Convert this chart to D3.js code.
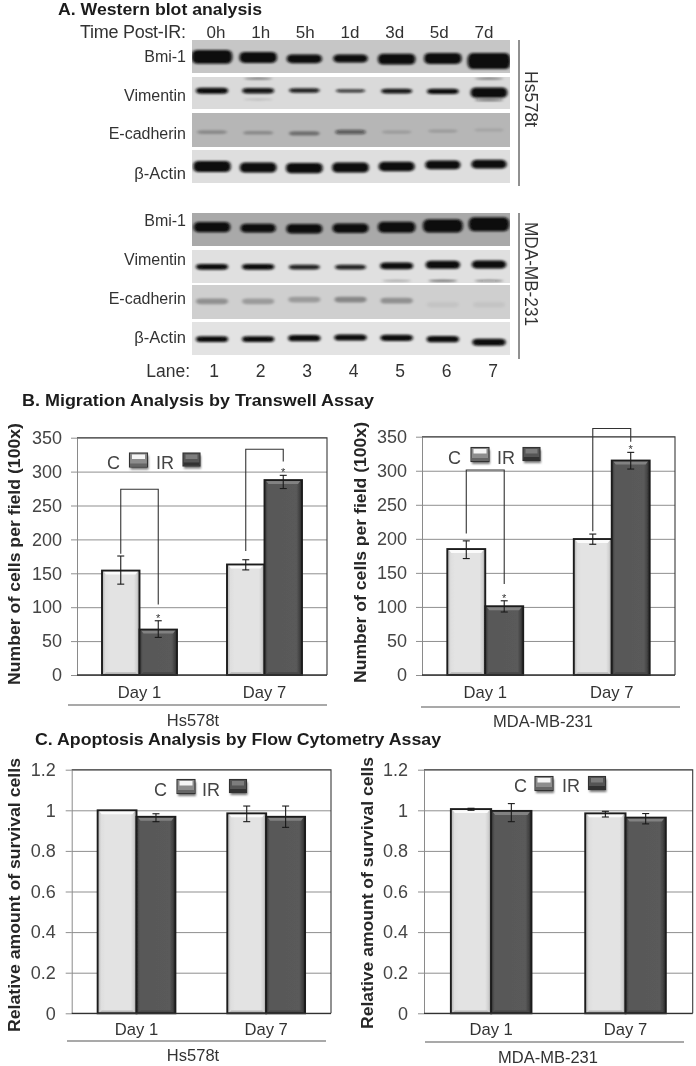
<!DOCTYPE html>
<html><head><meta charset="utf-8">
<script src="https://cdnjs.cloudflare.com/ajax/libs/d3/7.8.5/d3.min.js"></script>
<style>
html,body{margin:0;padding:0;background:#fff}
svg{display:block}
text{font-family:"Liberation Sans",Arial,sans-serif}
</style></head><body>
<svg id="c" width="696" height="1066"></svg>
<script>
// ---------- DATA ----------
const timeLabels=["0h","1h","5h","1d","3d","5d","7d"];
const laneLabels=["1","2","3","4","5","6","7"];
const days=["Day 1","Day 7"];
const seriesNames=["C","IR"];
const yTicksMigration=[0,50,100,150,200,250,300,350];
const yTicksSurvival=[0,0.2,0.4,0.6,0.8,1,1.2];

// western blot: thick = band thickness, dark = band density, mig = migration within the strip (0-1)
const hsBmiThick=[.85,.65,.5,.45,.65,.65,1], hsBmiDark=[1,1,1,1,1,1,1], hsBmiMig=[.51,.53,.57,.56,.58,.56,.64];
const hsVimThick=[.3,.27,.2,.12,.22,.27,.6], hsVimDark=[1,.95,.9,.8,.95,1,1], hsVimMig=[.43,.43,.42,.43,.44,.45,.49];
const hsEcadThick=[.15,.15,.2,.2,.12,.12,.12], hsEcadDark=[.25,.25,.4,.55,.15,.15,.1], hsEcadMig=[.56,.58,.6,.56,.56,.53,.5];
const hsActThick=[.65,.6,.6,.6,.55,.5,.5], hsActDark=[1,1,1,1,1,1,1], hsActMig=[.5,.53,.55,.53,.5,.45,.43];
const mbBmiThick=[.6,.5,.55,.55,.65,.8,.85], mbBmiDark=[1,1,1,1,1,1,1], mbBmiMig=[.43,.46,.48,.46,.43,.39,.34];
const mbVimThick=[.3,.3,.22,.22,.35,.45,.45], mbVimDark=[1,1,.9,.9,1,1,1], mbVimMig=[.51,.51,.52,.52,.48,.45,.44];
const mbEcadThick=[.3,.3,.3,.3,.3,.3,.3], mbEcadDark=[.3,.25,.25,.35,.3,.05,.05], mbEcadMig=[.48,.48,.43,.43,.46,.58,.58];
const mbActThick=[.3,.3,.32,.32,.32,.32,.38], mbActDark=[1,1,1,1,1,1,1], mbActMig=[.52,.52,.49,.47,.48,.52,.61];

// migration, Hs578t   [Day 1, Day 7]
const migHsC=[154,163], migHsIR=[67,287.5];
const migHsCLow=[134,155], migHsCHigh=[175.5,170], migHsIRLow=[55.5,275], migHsIRHigh=[80,294.5];
const migHsBracketTop=[274,333], migHsBracketC=[179,183], migHsBracketIR=[104,315];
// migration, MDA-MB-231
const migMbC=[185,199.7], migMbIR=[101,315];
const migMbCLow=[171,192], migMbCHigh=[197,207], migMbIRLow=[92.5,302.5], migMbIRHigh=[109,327];
const migMbBracketTop=[301,362], migMbBracketC=[208,211], migMbBracketIR=[133.6,342.6];
// survival, Hs578t
const surHsC=[1,.985], surHsIR=[.968,.968];
const surHsCLow=[1,.944], surHsCHigh=[1,1.021], surHsIRLow=[.944,.916], surHsIRHigh=[.983,1.021];
// survival, MDA-MB-231
const surMbC=[1.006,.985], surMbIR=[.997,.964];
const surMbCLow=[1,.967], surMbCHigh=[1.01,.995], surMbIRLow=[.944,.933], surMbIRHigh=[1.033,.984];

// ---------- SETUP ----------
const svg=d3.select("#c");
const defs=svg.append("defs");
defs.append("filter").attr("id","soft").attr("x",0).attr("y",0).attr("width",1).attr("height",1)
  .append("feGaussianBlur").attr("stdDeviation",0.4);
const bl=defs.append("filter").attr("id","bandBlur").attr("x","-30%").attr("y","-80%").attr("width","160%").attr("height","260%");
bl.append("feGaussianBlur").attr("stdDeviation","1.6 0.9");
defs.append("filter").attr("id","shadow").attr("x","-30%").attr("y","-30%").attr("width","160%").attr("height","170%")
  .append("feGaussianBlur").attr("stdDeviation",1.2);
function hGrad(id,stops){
  const g=defs.append("linearGradient").attr("id",id);
  stops.forEach(s=>g.append("stop").attr("offset",s[0]).attr("stop-color",s[1]));
}
hGrad("sideC",[[0,"#aeaeae"],[.09,"#dedede"],[.2,"#e3e3e3"],[.85,"#e3e3e3"],[.93,"#d0d0d0"],[1,"#9a9a9a"]]);
hGrad("sideIR",[[0,"#3a3a3a"],[.09,"#585858"],[.85,"#5a5a5a"],[.93,"#444"],[1,"#262626"]]);
const root=svg.append("g").attr("filter","url(#soft)");
root.append("rect").attr("width",696).attr("height",1066).attr("fill","#fff");

const label=(t,x,y,o={})=>{
  const n=root.append("text").text(t).attr("x",x).attr("y",y)
    .attr("font-size",o.size||16).attr("fill",o.fill||"#333")
    .attr("font-weight",o.bold?"bold":"normal").attr("text-anchor",o.anchor||"start");
  if(o.len)n.attr("textLength",o.len).attr("lengthAdjust",o.adjust||"spacing");
  if(o.rot!==undefined)n.attr("transform",`rotate(${o.rot} ${x} ${y})`);
  return n;
};

// ---------- PANEL A ----------
label("A. Western blot analysis",58,15,{size:16,bold:true,fill:"#1c1c1c",len:204,adjust:"spacingAndGlyphs"});
const laneX=d3.scalePoint().domain(d3.range(7)).range([212,489]);
const bandW=d3.scaleLinear().domain([0,1]).range([27,43]);
const bandH=d3.scaleLinear().domain([0,1]).range([1.5,16]);
const blotX=192, blotW=318;

function strip(name,y0,y1,bg,thick,dark,mig,ghost,labelY){
  const g=root.append("g");
  g.append("rect").attr("x",blotX).attr("y",y0).attr("width",blotW).attr("height",y1-y0).attr("fill",bg);
  const yS=d3.scaleLinear().domain([0,1]).range([y0,y1]);
  const clip="cl"+name.replace(/\W/g,"")+y0;
  defs.append("clipPath").attr("id",clip).append("rect").attr("x",blotX).attr("y",y0).attr("width",blotW).attr("height",y1-y0);
  const bands=g.append("g").attr("clip-path",`url(#${clip})`).append("g").attr("filter","url(#bandBlur)");
  (ghost||[]).forEach(d=>{
    bands.append("ellipse").attr("cx",laneX(d[0])).attr("cy",yS(d[1]))
      .attr("rx",bandW(.1)/2).attr("ry",1).attr("fill","#111").attr("opacity",d[2]);
  });
  bands.selectAll("rect.b").data(d3.range(7)).join("rect").attr("class","b")
    .attr("x",i=>laneX(i)-bandW(thick[i])/2).attr("width",i=>bandW(thick[i]))
    .attr("y",i=>yS(mig[i])-bandH(thick[i])/2).attr("height",i=>bandH(thick[i]))
    .attr("rx",5).attr("ry",i=>bandH(thick[i])/2.4)
    .attr("fill","#0c0c0c").attr("opacity",i=>dark[i]);
  label(name,186,labelY,{anchor:"end",size:name==="β-Actin"?16.5:16});
}
strip("Bmi-1",40,73,"#c6c6c6",hsBmiThick,hsBmiDark,hsBmiMig,null,62);
strip("Vimentin",77,109,"#dadada",hsVimThick,hsVimDark,hsVimMig,[[1,.05,.5],[6,.05,.5],[1,.7,.15],[6,.72,.6]],100.7);
strip("E-cadherin",113,147,"#b6b6b6",hsEcadThick,hsEcadDark,hsEcadMig,null,139);
strip("β-Actin",150,183,"#dedede",hsActThick,hsActDark,hsActMig,null,179);
strip("Bmi-1",213,246,"#a9a9a9",mbBmiThick,mbBmiDark,mbBmiMig,null,226);
strip("Vimentin",250,283,"#e0e0e0",mbVimThick,mbVimDark,mbVimMig,[[4,.93,.25],[5,.93,.55],[6,.93,.45]],265);
strip("E-cadherin",285,319,"#cfcfcf",mbEcadThick,mbEcadDark,mbEcadMig,null,304);
strip("β-Actin",322,355,"#e3e3e3",mbActThick,mbActDark,mbActMig,null,343);

label("Time Post-IR:",186,38,{anchor:"end",size:18,len:106});
const timeX=d3.scalePoint().domain(timeLabels).range([216,484]);
timeLabels.forEach(t=>label(t,timeX(t),38,{anchor:"middle",size:17}));
label("Lane:",190,377,{anchor:"end",size:17.5});
const laneTextX=d3.scalePoint().domain(laneLabels).range([214,493]);
laneLabels.forEach(t=>label(t,laneTextX(t),377,{anchor:"middle",size:17.5}));
root.append("line").attr("x1",519).attr("x2",519).attr("y1",40).attr("y2",186).attr("stroke","#222").attr("stroke-width",1);
root.append("line").attr("x1",519).attr("x2",519).attr("y1",213).attr("y2",359).attr("stroke","#222").attr("stroke-width",1);
label("Hs578t",525,71,{size:18,rot:90,len:56,adjust:"spacingAndGlyphs"});
label("MDA-MB-231",525,222,{size:18,rot:90,len:104,adjust:"spacingAndGlyphs"});

// ---------- BAR CHARTS ----------
function bevelBar(g,x,y,w,h,kind,b){
  const c=kind==="C";
  g.append("rect").attr("x",x).attr("y",y).attr("width",w).attr("height",h).attr("fill",`url(#side${kind})`);
  const bb=Math.min(b,h/2);
  g.append("path").attr("d",d3.line()([[x+1,y],[x+w-1,y],[x+w-bb,y+bb],[x+bb,y+bb]])+"Z")
    .attr("fill",c?"#fbfbfb":"#828282");
  g.append("path").attr("d",d3.line()([[x+1,y+h],[x+w-1,y+h],[x+w-bb,y+h-bb*.7],[x+bb,y+h-bb*.7]])+"Z")
    .attr("fill",c?"#b8b8b8":"#484848");
  g.append("rect").attr("x",x).attr("y",y).attr("width",w).attr("height",h).attr("fill","none")
    .attr("stroke","#1d1d1d").attr("stroke-width",1.9);
}

function chart(o){
  const {x0,x1,yTop,yBot,domain,ticks,C,IR,CLow,CHigh,IRLow,IRHigh}=o;
  const g=root.append("g");
  const x=d3.scaleBand().domain(days).range([x0,x1]).paddingInner(.4).paddingOuter(.2);
  const inner=d3.scaleBand().domain(seriesNames).range([0,x.bandwidth()]);
  const y=d3.scaleLinear().domain(domain).range([yBot,yTop]);
  const w=x1-x0;
  // gridlines and ticks
  g.append("g").attr("transform",`translate(${x0},0)`)
    .call(d3.axisLeft(y).tickValues(ticks).tickSize(-w).tickFormat("").tickSizeOuter(0))
    .call(s=>s.select(".domain").remove())
    .call(s=>s.selectAll("line").attr("stroke","#8f8f8f").attr("stroke-width",1));
  g.append("g").attr("transform",`translate(${x0},0)`)
    .call(d3.axisLeft(y).tickValues(ticks).tickFormat(d3.format("~g")).tickSize(o.tick).tickPadding(o.pad).tickSizeOuter(0))
    .call(s=>s.select(".domain").attr("stroke","#8a8a8a"))
    .call(s=>s.selectAll("line").attr("stroke","#8f8f8f"))
    .call(s=>s.selectAll("text").attr("font-size",18).attr("fill","#444").attr("font-family",'"Liberation Sans",Arial,sans-serif'));
  // frame
  g.append("path").attr("d",d3.line()([[x0,yTop],[x1,yTop],[x1,yBot]])).attr("fill","none").attr("stroke","#3a3a3a").attr("stroke-width",1.1);
  // bars
  days.forEach((d,i)=>{
    const xC=x(d)+inner("C"), xI=x(d)+inner("IR"), bw=inner.bandwidth();
    bevelBar(g,xC,y(C[i]),bw,yBot-y(C[i]),"C",4);
    bevelBar(g,xI,y(IR[i]),bw,yBot-y(IR[i]),"IR",4);
  });
  // baseline
  g.append("line").attr("x1",x0).attr("x2",x1).attr("y1",yBot).attr("y2",yBot).attr("stroke","#333").attr("stroke-width",1.3);
  // error bars
  const err=(cx,lo,hi)=>{
    const e=g.append("g").attr("stroke","#1a1a1a").attr("stroke-width",1.1);
    e.append("line").attr("x1",cx).attr("x2",cx).attr("y1",y(lo)).attr("y2",y(hi));
    [lo,hi].forEach(v=>e.append("line").attr("x1",cx-3.5).attr("x2",cx+3.5).attr("y1",y(v)).attr("y2",y(v)));
  };
  days.forEach((d,i)=>{
    const cC=x(d)+inner("C")+inner.bandwidth()/2, cI=x(d)+inner("IR")+inner.bandwidth()/2;
    if(CHigh[i]>CLow[i])err(cC,CLow[i],CHigh[i]);
    err(cI,IRLow[i],IRHigh[i]);
    if(o.bTop){
      g.append("path").attr("fill","none").attr("stroke","#333").attr("stroke-width",1.1)
       .attr("d",d3.line()([[cC,y(o.bC[i])],[cC,y(o.bTop[i])],[cI,y(o.bTop[i])],[cI,y(o.bI[i])]]));
      g.append("text").text("*").attr("x",cI).attr("y",y(IRHigh[i])+1).attr("text-anchor","middle").attr("font-size",11).attr("fill","#333");
    }
  });
  // x axis
  g.append("g").attr("transform",`translate(0,${yBot})`)
    .call(d3.axisBottom(x).tickSize(0).tickPadding(o.xPad))
    .call(s=>s.select(".domain").remove())
    .call(s=>s.selectAll("text").attr("font-size",16.6).attr("fill","#333").attr("font-family",'"Liberation Sans",Arial,sans-serif'));
  // group rule and label
  g.append("line").attr("x1",o.ruleX0).attr("x2",o.ruleX1).attr("y1",o.ruleY).attr("y2",o.ruleY).attr("stroke","#555").attr("stroke-width",1.1);
  label(o.group,o.groupX,o.groupY,{anchor:"middle",size:16.5});
  // y label
  label(o.yLabel,o.yLabX,o.yLabMid,{anchor:"middle",size:16.5,bold:true,fill:"#262626",rot:-90,len:o.yLabLen,adjust:"spacingAndGlyphs"});
  // legend
  const lg=o.legend;
  label("C",lg.c,lg.base,{size:18,fill:"#444"});
  label("IR",lg.ir,lg.base,{size:18,fill:"#444"});
  [["C",lg.s1],["IR",lg.s2]].forEach(([k,sx])=>{
    const sw=k==="C"?18:17, sh=k==="C"?14:13;
    g.append("rect").attr("x",sx+1).attr("y",lg.sy+2.5).attr("width",sw).attr("height",sh).attr("fill","#777").attr("filter","url(#shadow)");
    g.append("rect").attr("x",sx).attr("y",lg.sy).attr("width",sw).attr("height",sh)
      .attr("fill",k==="C"?"#8d8d8d":"#555").attr("stroke","#333").attr("stroke-width",1.1);
    g.append("rect").attr("x",sx+2.5).attr("y",lg.sy+1.5).attr("width",sw-5).attr("height",4.5)
      .attr("fill",k==="C"?"#f5f5f5":"#7d7d7d");
    g.append("rect").attr("x",sx+.5).attr("y",lg.sy+sh-3.5).attr("width",sw-1).attr("height",3)
      .attr("fill",k==="C"?"#666":"#333");
  });
}

label("B. Migration Analysis by Transwell Assay",22,406,{size:16,bold:true,fill:"#1c1c1c",len:352,adjust:"spacingAndGlyphs"});
label("C. Apoptosis Analysis by Flow Cytometry Assay",35,745,{size:16,bold:true,fill:"#1c1c1c",len:406,adjust:"spacingAndGlyphs"});

const migLabel="Number of cells per field (100x)", surLabel="Relative amount of survival cells";
chart({x0:77,x1:327,yTop:437.7,yBot:675,domain:[0,350],ticks:yTicksMigration,tick:6,pad:9,xPad:11,
  C:migHsC,IR:migHsIR,CLow:migHsCLow,CHigh:migHsCHigh,IRLow:migHsIRLow,IRHigh:migHsIRHigh,
  bTop:migHsBracketTop,bC:migHsBracketC,bI:migHsBracketIR,
  ruleX0:68,ruleX1:327,ruleY:705,group:"Hs578t",groupX:193,groupY:726,
  yLabel:migLabel,yLabX:20,yLabMid:554,yLabLen:262,
  legend:{c:107,ir:156,base:469,s1:129.5,s2:183,sy:453}});
chart({x0:422,x1:675,yTop:436.7,yBot:675,domain:[0,350],ticks:yTicksMigration,tick:6,pad:9,xPad:11,
  C:migMbC,IR:migMbIR,CLow:migMbCLow,CHigh:migMbCHigh,IRLow:migMbIRLow,IRHigh:migMbIRHigh,
  bTop:migMbBracketTop,bC:migMbBracketC,bI:migMbBracketIR,
  ruleX0:421,ruleX1:680,ruleY:707,group:"MDA-MB-231",groupX:543,groupY:727,
  yLabel:migLabel,yLabX:366,yLabMid:552.5,yLabLen:261,
  legend:{c:448,ir:497,base:464,s1:471,s2:523,sy:447.5}});
chart({x0:71.7,x1:331,yTop:769.7,yBot:1013.3,domain:[0,1.2],ticks:yTicksSurvival,tick:6,pad:10,xPad:10,
  C:surHsC,IR:surHsIR,CLow:surHsCLow,CHigh:surHsCHigh,IRLow:surHsIRLow,IRHigh:surHsIRHigh,
  ruleX0:67,ruleX1:326,ruleY:1041,group:"Hs578t",groupX:193,groupY:1061,
  yLabel:surLabel,yLabX:20,yLabMid:895,yLabLen:274,
  legend:{c:154,ir:202,base:796,s1:177,s2:229.5,sy:779.5}});
chart({x0:424,x1:692.7,yTop:769.7,yBot:1013.3,domain:[0,1.2],ticks:yTicksSurvival,tick:6,pad:10,xPad:10,
  C:surMbC,IR:surMbIR,CLow:surMbCLow,CHigh:surMbCHigh,IRLow:surMbIRLow,IRHigh:surMbIRHigh,
  ruleX0:425,ruleX1:684,ruleY:1042,group:"MDA-MB-231",groupX:548,groupY:1063,
  yLabel:surLabel,yLabX:373,yLabMid:893,yLabLen:272,
  legend:{c:514,ir:562,base:792,s1:535,s2:588.5,sy:776.5}});
</script>
</body></html>
